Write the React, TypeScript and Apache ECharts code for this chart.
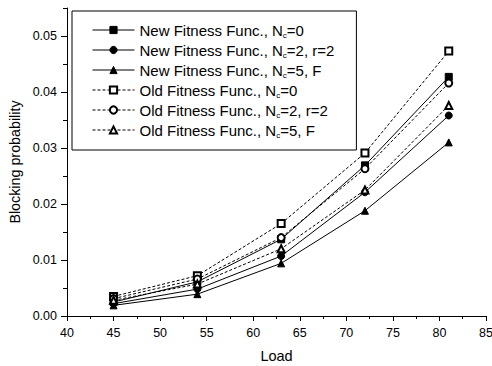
import React, { useEffect, useRef } from "react";
import * as echarts from "echarts";

const loads = [45, 54, 63, 72, 81];
const newNc0 = [0.0025, 0.0061, 0.0137, 0.0269, 0.0427];
const newNc2 = [0.0022, 0.0048, 0.0107, 0.0221, 0.0358];
const newNc5 = [0.0019, 0.0039, 0.0094, 0.0188, 0.031];
const oldNc0 = [0.0035, 0.0072, 0.0165, 0.0291, 0.0473];
const oldNc2 = [0.0031, 0.0066, 0.014, 0.0263, 0.0416];
const oldNc5 = [0.0028, 0.0057, 0.012, 0.0225, 0.0376];

const seriesNames = [
  "New Fitness Func., N_c=0",
  "New Fitness Func., N_c=2, r=2",
  "New Fitness Func., N_c=5, F",
  "Old Fitness Func., N_c=0",
  "Old Fitness Func., N_c=2, r=2",
  "Old Fitness Func., N_c=5, F",
];
const seriesData = [newNc0, newNc2, newNc5, oldNc0, oldNc2, oldNc5];
const seriesSymbols = ["rect", "circle", "triangle", "emptyRect", "emptyCircle", "emptyTriangle"];
const seriesDashed = [false, false, false, true, true, true];

const yMajor = [0, 0.01, 0.02, 0.03, 0.04, 0.05];
const yMinor = [0.005, 0.015, 0.025, 0.035, 0.045, 0.055];

const FONT = "'Liberation Sans', Arial, sans-serif";

export default function App() {
  const ref = useRef<HTMLDivElement>(null);
  useEffect(() => {
    if (!ref.current) return;
    const chart = echarts.init(ref.current, null, { renderer: "svg" });
    const series = seriesNames.map((name, i) => ({
      name,
      type: "line",
      data: loads.map((x, j) => [x, seriesData[i][j]]),
      symbol: seriesSymbols[i],
      symbolSize: 7,
      showSymbol: true,
      yAxisIndex: 0,
      lineStyle: { color: "#000", width: 1, type: seriesDashed[i] ? [3, 2] : "solid" },
      itemStyle: { color: "#000", borderColor: "#000", borderWidth: 1 },
      z: seriesDashed[i] ? 3 : 2,
    }));
    chart.setOption({
      animation: false,
      backgroundColor: "#fff",
      textStyle: { fontFamily: FONT, color: "#000" },
      grid: { left: 67, right: 6, top: 8, bottom: 50, containLabel: false, outerBoundsMode: "none" },
      legend: {
        orient: "vertical",
        left: 72,
        top: 11,
        padding: [10, 22, 11, 20],
        itemGap: 2,
        itemWidth: 42,
        itemHeight: 9,
        borderColor: "#000",
        borderWidth: 1,
        backgroundColor: "#fff",
        data: seriesNames,
        lineStyle: { width: 1 },
        itemStyle: { borderWidth: 1 },
        formatter: (n: string) => n.replace("N_c", "N{sub|c}"),
        textStyle: {
          fontFamily: FONT,
          fontSize: 15,
          color: "#000",
          lineHeight: 18,
          rich: {
            sub: { fontSize: 8, lineHeight: 6, verticalAlign: "bottom", fontFamily: FONT, color: "#000" },
          },
        },
      },
      xAxis: {
        type: "value",
        min: 40,
        max: 85,
        interval: 5,
        name: "Load",
        nameLocation: "middle",
        nameGap: 32,
        nameTextStyle: { fontSize: 14.5, color: "#000", fontFamily: FONT },
        axisLine: { show: true, lineStyle: { color: "#000", width: 1 } },
        axisTick: { show: true, inside: false, length: 5, lineStyle: { color: "#000" } },
        minorTick: { show: true, splitNumber: 2, length: 3, lineStyle: { color: "#000" } },
        axisLabel: { fontSize: 12.5, color: "#000", margin: 10, fontFamily: FONT },
        splitLine: { show: false },
      },
      yAxis: [
        {
          type: "value",
          min: 0,
          max: 0.055,
          position: "left",
          name: "Blocking probability",
          nameLocation: "middle",
          nameGap: 42,
          nameTextStyle: { fontSize: 14.3, color: "#000", fontFamily: FONT },
          axisLine: { show: true, lineStyle: { color: "#000", width: 1 } },
          axisTick: { show: true, length: 6, customValues: yMajor, lineStyle: { color: "#000" } },
          axisLabel: {
            fontSize: 12.5,
            color: "#000",
            margin: 10,
            fontFamily: FONT,
            customValues: yMajor,
            formatter: (v: number) => v.toFixed(2),
          },
          splitLine: { show: false },
        },
        {
          type: "value",
          min: 0,
          max: 0.055,
          position: "left",
          offset: 0,
          axisLine: { show: false },
          axisTick: { show: true, length: 4, customValues: yMinor, lineStyle: { color: "#000" } },
          axisLabel: { show: false },
          splitLine: { show: false },
        },
      ],
      series,
    });
    return () => chart.dispose();
  }, []);
  return (
    <div
      ref={ref}
      style={{ position: "fixed", left: 0, top: 0, width: 492, height: 366, background: "#fff" }}
    />
  );
}
